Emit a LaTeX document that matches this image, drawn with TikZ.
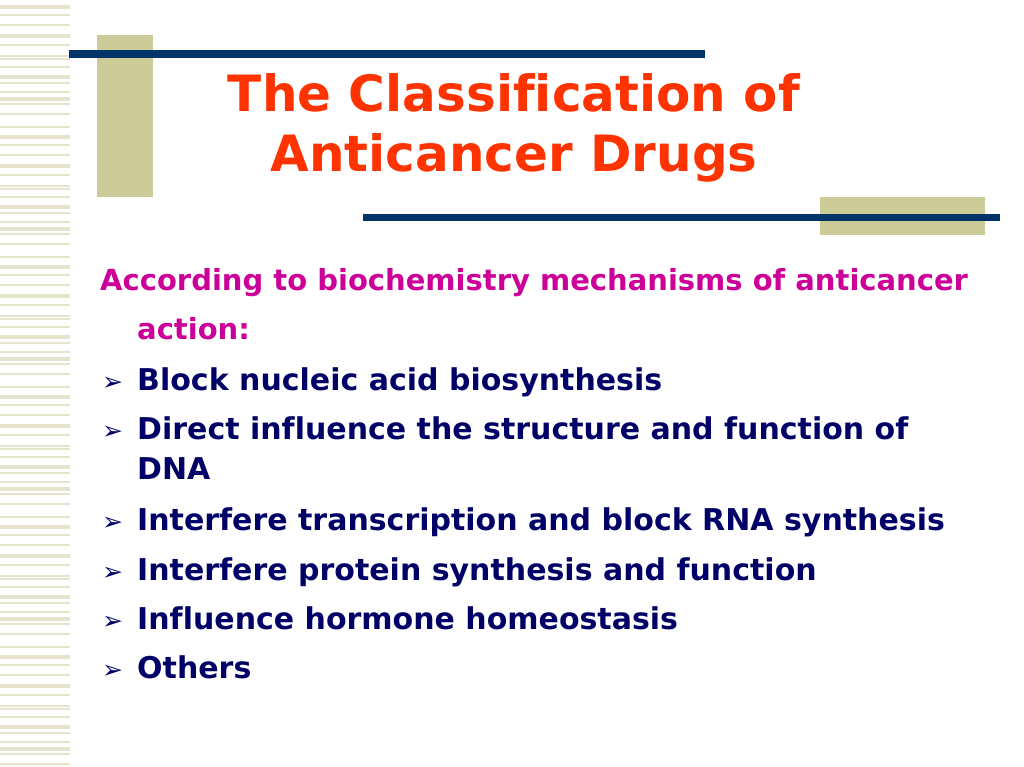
\documentclass[tikz,border=0pt]{standalone}
\usepackage{fontspec}
\setmainfont[Ligatures=CommonOff]{DejaVu Sans}
\definecolor{tan}{HTML}{CCCC99}
\definecolor{navy}{HTML}{003366}
\definecolor{stripe}{HTML}{E6E4CC}
\definecolor{titlec}{HTML}{FF3300}
\definecolor{headc}{HTML}{CC0099}
\definecolor{bodyc}{HTML}{000066}
\tikzset{body/.style={anchor=base west,inner sep=0pt,text=bodyc,font=\fontsize{30}{36}\selectfont\bfseries},
bul/.style={anchor=base west,inner sep=0pt,text=bodyc,font=\fontsize{25}{30}\selectfont}}
\begin{document}
\begin{tikzpicture}[x=1pt,y=-1pt]
\useasboundingbox (0,0) rectangle (1024,767);
\foreach \p in {0,130,260,390,520,650}{
 \foreach \y/\w in {5/4,14/2,24/2,34/4,44/2,55/2,58/2,66/2,75/4,82/2,91/2,97/4,103/2,113/2,126/2}{
  \pgfmathsetmacro\yy{\p+\y}
  \ifdim\yy pt<767pt \fill[stripe] (0,\yy) rectangle (70,\yy+\w);\fi
 }}
\fill[tan] (97,35) rectangle (153,197);
\fill[navy] (69,50) rectangle (705,58);
\fill[tan] (820,197) rectangle (985,235);
\fill[navy] (363,214) rectangle (1000,221);
\node[text=titlec,font=\fontsize{50}{60}\selectfont\bfseries,align=center,inner sep=0pt] (t) at (514,128) {The Classification of\\Anticancer Drugs};
\node[anchor=base west,inner sep=0pt,text=headc,font=\fontsize{29}{34}\selectfont\bfseries] (h1) at (100,290) {According to biochemistry mechanisms of anticancer};
\node[anchor=base west,inner sep=0pt,text=headc,font=\fontsize{29}{34}\selectfont\bfseries] (h2) at (137,339) {action:};
\foreach \n/\y/\t in {b1/390/{Block nucleic acid biosynthesis},b2/439/{Direct influence the structure and function of},b4/530/{Interfere transcription and block RNA synthesis},b5/580/{Interfere protein synthesis and function},b6/629/{Influence hormone homeostasis},b7/678/{Others}}{
 \node[bul] (a\n) at (102,\y) {➢};
 \node[body] (\n) at (137,\y) {\t};
}
\node[body] (b3) at (137,479) {DNA};
\end{tikzpicture}
\end{document}
